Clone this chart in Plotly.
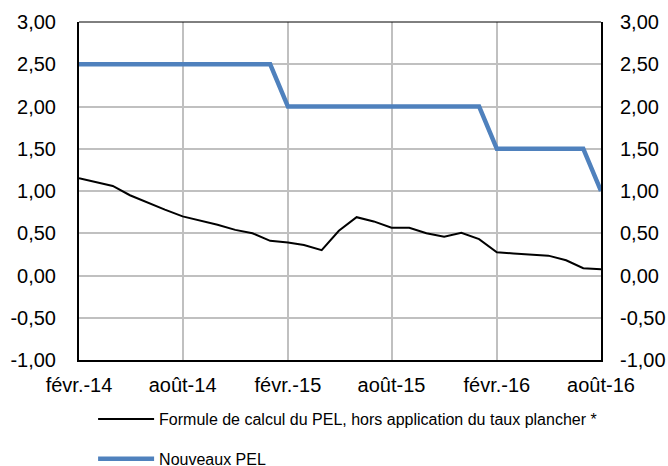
import plotly.graph_objects as go
import pandas as pd

months = pd.date_range("2014-02-01", "2016-08-01", freq="MS")
formule_pel = [1.15, 1.11, 1.06, 0.95, 0.86, 0.78, 0.70, 0.65, 0.60, 0.54, 0.50,
               0.41, 0.39, 0.36, 0.30, 0.53, 0.69, 0.64, 0.565, 0.565, 0.50, 0.46,
               0.505, 0.43, 0.275, 0.26, 0.25, 0.235, 0.18, 0.086, 0.075]
nouveaux_pel = [2.5]*12 + [2.0]*12 + [1.5]*6 + [1.0]
tick_dates = ["2014-02-01", "2014-08-01", "2015-02-01", "2015-08-01", "2016-02-01", "2016-08-01"]
tick_labels = ["févr.-14", "août-14", "févr.-15", "août-15", "févr.-16", "août-16"]
y_ticks = [-1.0, -0.5, 0.0, 0.5, 1.0, 1.5, 2.0, 2.5, 3.0]
y_tick_labels = ["-1,00", "-0,50", "0,00", "0,50", "1,00", "1,50", "2,00", "2,50", "3,00"]

fig = go.Figure()
fig.add_trace(go.Scatter(x=months, y=formule_pel, mode="lines",
                         name="Formule de calcul du PEL, hors application du taux plancher *",
                         line=dict(color="#000000", width=2), legendgroup="a"))
fig.add_trace(go.Scatter(x=months, y=nouveaux_pel, mode="lines", name="Nouveaux PEL",
                         line=dict(color="#4f81bd", width=4.5), yaxis="y2", legendgroup="b"))

fam = "Liberation Sans, Arial, sans-serif"
font = dict(family=fam, size=20, color="#000000")
yax = dict(range=[-1, 3], tickvals=y_ticks, ticktext=y_tick_labels, showgrid=True,
           gridcolor="#c0c0c0", gridwidth=2, zeroline=False, showline=True,
           linecolor="#000000", linewidth=2, ticks="", tickfont=font,
           automargin=False)
fig.update_layout(
    width=668, height=466,
    margin=dict(l=79, r=67, t=22, b=106, autoexpand=False),
    paper_bgcolor="white", plot_bgcolor="white",
    font=font,
    xaxis=dict(range=["2014-02-01", "2016-08-01"], tickvals=tick_dates, ticktext=tick_labels,
               showgrid=True, gridcolor="#c0c0c0", gridwidth=2, showline=True,
               linecolor="#000000", linewidth=2, ticks="", tickfont=font, zeroline=False,
               automargin=False, ticklabelstandoff=6),
    yaxis=dict(**yax, side="left", ticklabelstandoff=17),
    yaxis2=dict(**yax, side="right", overlaying="y", ticklabelstandoff=13),
    showlegend=True,
    legend=dict(x=0.027, y=-0.1246, xanchor="left", yanchor="top",
                font=dict(family=fam, size=16, color="#000000"),
                traceorder="grouped", tracegroupgap=16, itemwidth=56,
                bgcolor="rgba(0,0,0,0)"),
    shapes=[dict(type="line", xref="paper", yref="paper", x0=0, x1=1, y0=1, y1=1,
                 line=dict(color="#000000", width=1))],
)
fig.write_html("out.html", config={"displayModeBar": False},
               post_script="document.body.style.margin='0px';")
